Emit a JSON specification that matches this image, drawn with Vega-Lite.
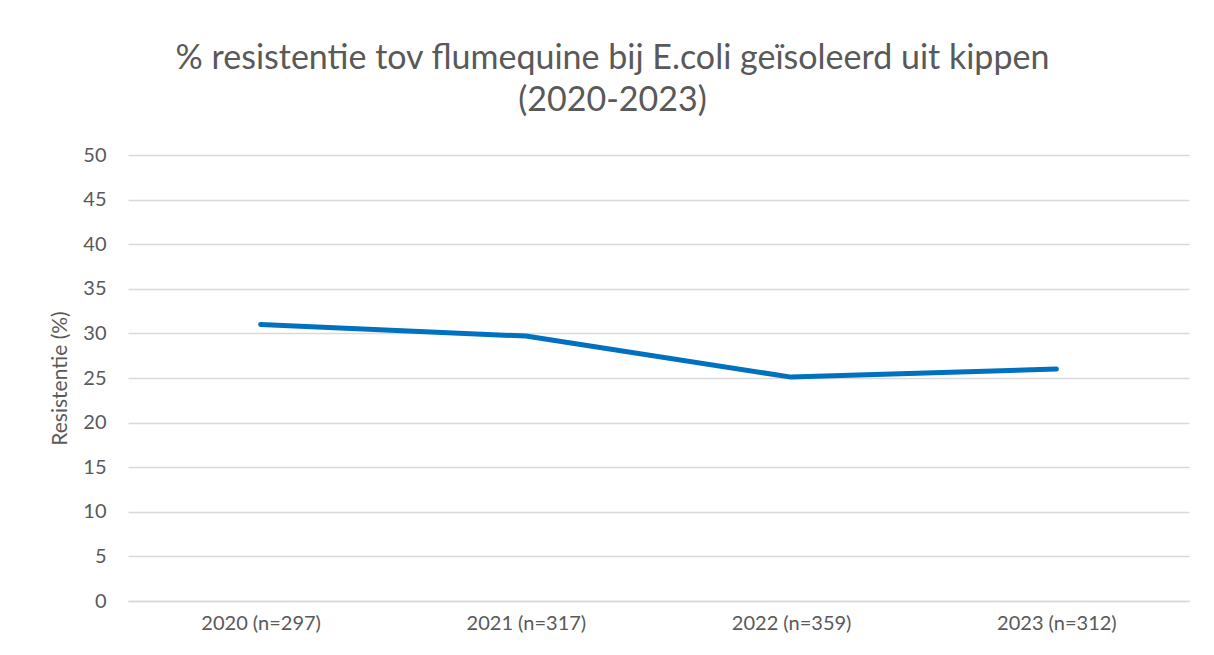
{
  "$schema": "https://vega.github.io/schema/vega-lite/v6.json",
  "width": 1061,
  "height": 446,
  "autosize": {"type": "none"},
  "padding": {"left": 128, "top": 155, "right": 25, "bottom": 54},
  "background": "white",
  "title": {
    "text": ["% resistentie tov flumequine bij E.coli geïsoleerd uit kippen", "(2020-2023)"],
    "font": "Lato",
    "fontSize": 34,
    "fontWeight": "normal",
    "color": "#595959",
    "anchor": "middle",
    "dx": -46,
    "lineHeight": 42,
    "offset": 27
  },
  "data": {
    "values": [
      {"jaar": "2020 (n=297)", "resistentie": 31.0},
      {"jaar": "2021 (n=317)", "resistentie": 29.7},
      {"jaar": "2022 (n=359)", "resistentie": 25.1},
      {"jaar": "2023 (n=312)", "resistentie": 26.0}
    ]
  },
  "mark": {"type": "line", "color": "#0070C0", "strokeWidth": 5, "strokeCap": "round", "strokeJoin": "round"},
  "encoding": {
    "x": {
      "field": "jaar",
      "type": "ordinal",
      "sort": null,
      "scale": {"type": "point", "padding": 0.5},
      "axis": {
        "title": null,
        "labelAngle": 0,
        "labelFont": "Lato",
        "labelFontSize": 20,
        "labelColor": "#595959",
        "labelPadding": 12,
        "ticks": false,
        "domain": true,
        "domainColor": "#d9d9d9",
        "domainWidth": 1.5,
        "grid": false
      }
    },
    "y": {
      "field": "resistentie",
      "type": "quantitative",
      "scale": {"domain": [0, 50]},
      "axis": {
        "title": "Resistentie (%)",
        "titleFont": "Lato",
        "titleFontSize": 21,
        "titleFontWeight": "normal",
        "titleColor": "#595959",
        "titlePadding": 12,
        "values": [0, 5, 10, 15, 20, 25, 30, 35, 40, 45, 50],
        "labelFont": "Lato",
        "labelFontSize": 20,
        "labelColor": "#595959",
        "labelPadding": 22,
        "ticks": false,
        "domain": false,
        "grid": true,
        "gridColor": "#d9d9d9",
        "gridWidth": 1.5
      }
    }
  },
  "config": {"view": {"stroke": null}}
}
